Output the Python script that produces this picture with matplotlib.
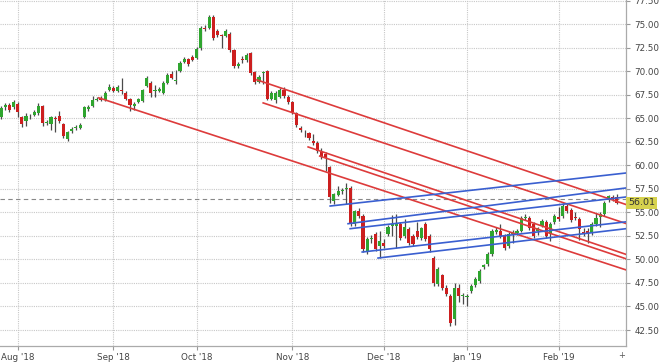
import numpy as np
import matplotlib
matplotlib.use("Agg")
import matplotlib.pyplot as plt

# daily candles (late Jul 2018 -> Feb 2019)
opens = [
    65.1, 66.2, 66.4, 66.2, 66.5, 65.1, 64.7, 65.2, 65.4, 65.6,
    66.3, 64.5, 64.4, 65.0, 65.2, 64.4, 62.8, 63.7, 64.0, 64.0,
    65.1, 66.0, 66.3, 67.0, 67.2, 66.9, 68.0, 68.2, 67.9, 68.0,
    67.7, 67.1, 66.3, 66.7, 66.8, 68.4, 68.8, 67.9, 67.9, 67.7,
    68.8, 69.7, 69.0, 70.0, 71.0, 71.3, 71.5, 71.4, 72.5, 74.6,
    74.6, 75.8, 74.3, 73.9, 73.8, 74.0, 72.3, 70.6, 71.3, 71.2,
    71.9, 69.9, 68.9, 69.8, 70.0, 67.1, 66.9, 67.3, 68.0, 67.3,
    66.7, 65.6, 64.0, 63.5, 63.4, 62.6, 62.4, 61.4, 61.2, 59.8,
    56.2, 56.9, 57.3, 57.5, 57.6, 53.8, 55.2, 54.6, 50.9, 52.2,
    52.7, 51.4, 51.8, 52.7, 53.6, 53.6, 53.8, 52.5, 53.2, 52.5,
    53.0, 52.3, 53.8, 52.5, 50.2, 47.4, 48.3, 47.0, 46.1, 43.7,
    47.0, 46.1, 46.0, 46.6, 47.3, 47.7, 49.2, 49.5, 50.6, 52.9,
    53.0, 52.5, 51.4, 52.7, 52.8, 53.0, 54.4, 54.4, 53.8, 53.0,
    53.6, 54.0, 52.7, 54.0, 54.5, 54.6, 55.7, 55.3, 54.5, 54.3,
    52.9, 53.0, 52.8, 53.8, 54.5, 54.8, 56.3, 56.6, 56.6,
]
highs = [
    66.3, 66.6, 66.6, 66.9, 66.7, 65.3, 65.6, 65.5, 65.9, 66.6,
    66.4, 64.8, 65.3, 65.3, 65.8, 64.5, 63.7, 64.1, 64.3, 64.5,
    66.3, 66.4, 67.4, 67.3, 67.4, 67.9, 68.6, 68.4, 68.5, 69.3,
    67.9, 67.2, 66.7, 67.2, 68.1, 69.5, 69.0, 68.5, 68.3, 69.0,
    69.8, 70.0, 70.1, 71.1, 71.5, 71.4, 71.7, 72.6, 74.8, 74.9,
    76.0, 76.0, 74.5, 74.0, 74.5, 74.2, 72.4, 71.0, 71.6, 71.9,
    72.0, 70.0, 69.6, 70.0, 70.1, 67.9, 67.9, 68.2, 68.3, 67.5,
    66.8, 65.7, 64.2, 63.8, 63.6, 63.3, 62.6, 61.9, 61.4, 59.9,
    57.1, 57.8, 57.6, 58.1, 57.8, 55.3, 55.5, 54.8, 52.4, 52.6,
    52.9, 53.0, 52.2, 53.7, 54.7, 54.8, 54.0, 54.3, 53.4, 52.7,
    54.0, 53.5, 54.0, 52.7, 50.4, 49.2, 48.5, 47.3, 46.3, 47.5,
    47.4, 46.4, 46.3, 47.4, 48.1, 49.0, 49.5, 50.8, 53.2, 53.5,
    53.8, 52.7, 52.9, 53.1, 53.2, 54.6, 54.8, 54.6, 54.0, 53.5,
    54.3, 54.2, 54.0, 54.8, 55.6, 56.0, 55.9, 55.5, 55.0, 54.5,
    53.3, 53.3, 54.0, 54.9, 55.0, 56.2, 56.9, 56.9, 57.0,
]
lows = [
    64.9, 65.9, 65.7, 66.0, 65.1, 64.1, 64.2, 64.9, 65.2, 65.4,
    64.2, 64.3, 63.8, 63.5, 64.5, 62.9, 62.6, 63.4, 63.8, 63.9,
    65.0, 65.8, 66.2, 66.8, 66.8, 66.8, 67.9, 67.8, 67.8, 67.6,
    67.0, 65.8, 65.9, 66.6, 66.7, 68.3, 67.3, 67.3, 67.8, 67.6,
    68.7, 69.2, 68.6, 69.9, 70.9, 70.6, 71.1, 71.3, 72.3, 74.3,
    74.5, 73.3, 73.6, 72.5, 73.7, 72.1, 70.4, 70.3, 70.9, 71.0,
    69.6, 68.7, 68.8, 68.7, 66.9, 66.9, 66.6, 67.2, 67.2, 66.5,
    65.5, 64.1, 63.5, 63.0, 62.7, 62.2, 61.3, 60.7, 59.4, 56.0,
    55.9, 56.7, 57.0, 55.9, 53.6, 53.6, 54.4, 50.8, 50.6, 51.8,
    50.9, 50.2, 51.2, 52.5, 52.5, 51.2, 52.1, 52.3, 51.5, 51.4,
    52.2, 52.1, 52.0, 50.8, 47.2, 47.2, 46.7, 46.1, 42.9, 43.0,
    45.5, 45.3, 45.1, 46.4, 47.1, 47.5, 49.0, 49.3, 50.4, 52.7,
    52.3, 51.0, 51.2, 51.8, 52.6, 52.9, 54.2, 53.1, 52.3, 52.6,
    53.4, 52.3, 52.0, 53.8, 54.1, 54.4, 54.9, 54.0, 54.2, 52.1,
    52.5, 51.8, 52.6, 53.6, 53.4, 54.6, 56.1, 56.2, 55.9,
]
closes = [
    66.1, 66.4, 65.9, 66.7, 65.7, 64.4, 65.3, 65.2, 65.7, 66.3,
    64.5, 64.6, 65.1, 64.9, 64.7, 63.1, 63.5, 63.9, 64.1, 64.3,
    66.2, 66.2, 66.9, 67.1, 66.9, 67.7, 68.3, 67.9, 68.3, 67.9,
    67.1, 66.4, 66.5, 67.1, 68.0, 69.3, 67.7, 68.0, 68.1, 68.8,
    69.6, 69.3, 69.1, 70.9, 71.3, 70.8, 71.2, 72.4, 74.6, 74.5,
    75.8, 73.5, 73.9, 73.8, 74.3, 72.3, 70.6, 70.8, 71.2, 71.7,
    69.8, 68.9, 69.4, 69.9, 67.1, 67.7, 67.7, 68.0, 67.4, 66.7,
    65.7, 64.3, 63.8, 63.6, 62.9, 62.4, 61.5, 60.9, 60.8, 56.6,
    57.0, 57.3, 57.4, 57.6, 53.9, 55.1, 54.6, 51.1, 52.2, 52.3,
    51.1, 52.0, 51.4, 53.5, 53.8, 53.9, 52.3, 53.4, 51.7, 51.6,
    52.4, 53.3, 52.2, 51.1, 47.5, 49.0, 47.0, 46.3, 43.2, 47.0,
    46.1, 46.2, 46.1, 47.2, 47.9, 48.8, 49.4, 50.6, 53.0, 53.1,
    52.5, 51.2, 52.7, 52.9, 53.0, 54.4, 54.5, 53.3, 52.5, 53.3,
    54.1, 52.5, 53.8, 54.6, 54.3, 55.7, 55.1, 54.2, 54.4, 53.2,
    52.7, 52.8, 53.8, 54.4, 54.8, 56.0, 56.7, 56.5, 56.01,
]

month_pos = [4, 27, 47, 70, 92, 112, 134]
month_labels = ["Aug '18", "Sep '18", "Oct '18", "Nov '18", "Dec '18", "Jan '19", "Feb '19"]
price_ticks = [42.5, 45, 47.5, 50, 52.5, 55, 57.5, 60, 62.5, 65, 67.5, 70, 72.5, 75, 77.5]

# drawn trend lines: (start index, start price, end index, end price)
red_lines = [
    (23.5, 67.18, 150.2, 48.89),
    (61.5, 69.09, 150.2, 55.84),
    (63.0, 66.64, 150.2, 53.82),
    (73.8, 61.96, 150.2, 50.54),
    (76.6, 60.99, 150.2, 50.07),
]
blue_lines = [
    (79.1, 55.68, 150.2, 59.19),
    (83.4, 53.80, 150.2, 57.60),
    (83.9, 53.27, 150.2, 56.64),
    (86.8, 50.79, 150.2, 54.00),
    (90.6, 50.15, 150.2, 53.27),
]
ref_level = 56.45
last_price = closes[-1]

UP = "#2fa52f"
DOWN = "#cc1f1f"
WICK = "#4a4a4a"

fig = plt.figure(figsize=(6.6, 3.62), dpi=100)
ax = fig.add_axes([0, 1 - 346 / 362, 626 / 660, 346 / 362])

x = np.arange(len(closes))
o = np.array(opens)
c = np.array(closes)
h = np.array(highs)
l = np.array(lows)
up = c >= o

ax.vlines(x, l, h, color=WICK, linewidth=0.9, zorder=3)
body_lo = np.minimum(o, c)
body_h = np.maximum(np.abs(c - o), 0.08)
ax.bar(x[up], body_h[up], bottom=body_lo[up], width=0.75, color=UP, zorder=4, linewidth=0)
ax.bar(x[~up], body_h[~up], bottom=body_lo[~up], width=0.75, color=DOWN, zorder=4, linewidth=0)

for x0, y0, x1, y1 in red_lines:
    ax.plot([x0, x1], [y0, y1], color="#dd3b3b", linewidth=1.2, zorder=5)
for x0, y0, x1, y1 in blue_lines:
    ax.plot([x0, x1], [y0, y1], color="#3a5fd0", linewidth=1.2, zorder=5)

ax.axhline(ref_level, color="#888888", linewidth=0.8, linestyle=(0, (4, 3)), zorder=2)

ax.set_xlim(-0.25, 150.2)
ax.set_ylim(40.8, 77.58)

ax.set_yticks(price_ticks)
ax.set_yticklabels([f"{v:.2f}" for v in price_ticks])
ax.set_xticks(month_pos)
ax.set_xticklabels(month_labels)
ax.yaxis.tick_right()
ax.tick_params(axis="both", labelsize=6.3, colors="#999999", labelcolor="#444444", length=3, width=0.8)
ax.tick_params(axis="y", pad=3)
ax.tick_params(axis="x", pad=2)

ax.grid(True, color="#c8c8c8", linestyle=(0, (1, 1)), linewidth=0.8, zorder=0)
ax.set_axisbelow(True)
for side in ["top", "left"]:
    ax.spines[side].set_visible(False)
for side in ["right", "bottom"]:
    ax.spines[side].set_color("#aaaaaa")
    ax.spines[side].set_linewidth(0.9)

ax.annotate(
    f"{last_price:.2f}",
    xy=(1.0, last_price),
    xycoords=("axes fraction", "data"),
    xytext=(1.5, 0),
    textcoords="offset points",
    ha="left",
    va="center",
    fontsize=6.8,
    color="#333333",
    bbox=dict(boxstyle="square,pad=0.2", facecolor="#d6d24e", edgecolor="none"),
    annotation_clip=False,
    zorder=10,
)

fig.text(622 / 660, 1 - 355 / 362, "+", fontsize=6, color="#555555", ha="center", va="center")

fig.savefig("out.png", dpi=100)
